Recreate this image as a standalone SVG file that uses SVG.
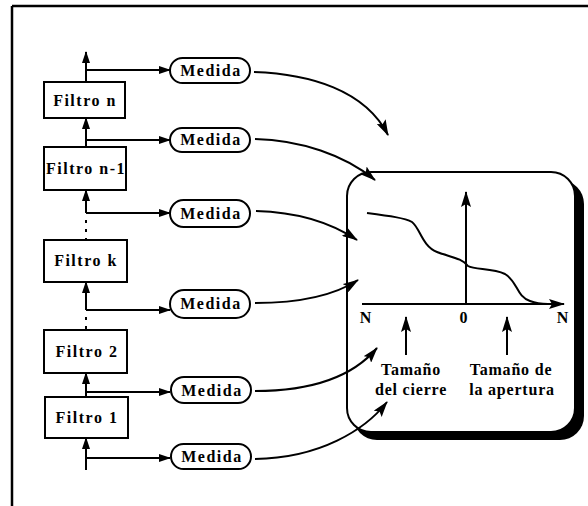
<svg xmlns="http://www.w3.org/2000/svg" width="588" height="506" viewBox="0 0 588 506">
<style>
.t{font-family:"Liberation Serif","Times New Roman",serif;font-weight:bold;fill:#000}
.lb{font-size:16px;letter-spacing:1.5px}
.pt{font-size:16px;letter-spacing:0.8px}
.box{fill:#fff;stroke:#000;stroke-width:2}
.pill{fill:#fff;stroke:#000;stroke-width:2}
.ln{fill:none;stroke:#000;stroke-width:2}
.dot{fill:none;stroke:#000;stroke-width:2;stroke-dasharray:3 6}
</style>
<defs>
<marker id="ah" viewBox="0 0 12 8" refX="11" refY="4" markerWidth="12" markerHeight="8" markerUnits="userSpaceOnUse" orient="auto">
<path d="M0,0 L12,4 L0,8 Z" fill="#000"/>
</marker>
<marker id="ahb" viewBox="0 0 16 10" refX="15" refY="5" markerWidth="16" markerHeight="10" markerUnits="userSpaceOnUse" orient="auto">
<path d="M0,0 L16,5 L0,10 L3,5 Z" fill="#000"/>
</marker>
</defs>
<g id="frame">
<line x1="12" y1="6" x2="588" y2="6" stroke="#000" stroke-width="2.5"/>
<line x1="12" y1="6" x2="12" y2="506" stroke="#000" stroke-width="2.5"/>
</g>
<g id="panel">
<rect x="353" y="180" width="231" height="260" rx="24" fill="#000"/>
<rect x="347" y="172" width="228" height="260" rx="24" fill="#fff" stroke="#000" stroke-width="2"/>
<path class="ln" d="M362,304 H564" marker-end="url(#ahb)"/>
<path class="ln" d="M466,304 V192" marker-end="url(#ahb)"/>
<path class="ln" d="M367,213 C390,216 405,218 412,222 C420,228 422,246 437,252 C450,257 462,258 468,266 C475,270 492,268 505,274 C518,282 516,296 530,301 C535,303 540,304 548,304"/>
<path class="ln" d="M406,355 V317" marker-end="url(#ahb)"/>
<path class="ln" d="M507,355 V317" marker-end="url(#ahb)"/>
<text class="t pt" x="366" y="323" text-anchor="middle">N</text>
<text class="t pt" x="464" y="323" text-anchor="middle">0</text>
<text class="t pt" x="563" y="323" text-anchor="middle">N</text>
<text class="t pt" x="411" y="375" text-anchor="middle">Tamaño</text>
<text class="t pt" x="411" y="395" text-anchor="middle">del cierre</text>
<text class="t pt" x="511" y="375" text-anchor="middle">Tamaño de</text>
<text class="t pt" x="512" y="395" text-anchor="middle">la apertura</text>
</g>
<g id="connectors">
<path class="ln" d="M86,82 V52" marker-end="url(#ah)"/>
<path class="ln" d="M86,70 H170" marker-end="url(#ah)"/>
<path class="ln" d="M86,147 V118" marker-end="url(#ah)"/>
<path class="ln" d="M86,140 H170" marker-end="url(#ah)"/>
<path class="ln" d="M86,213 V190" marker-end="url(#ah)"/>
<path class="ln" d="M86,213 H170" marker-end="url(#ah)"/>
<path class="dot" d="M86,220 V240"/>
<path class="ln" d="M86,310 V282" marker-end="url(#ah)"/>
<path class="ln" d="M86,310 H170" marker-end="url(#ah)"/>
<path class="dot" d="M86,317 V330"/>
<path class="ln" d="M86,397 V373" marker-end="url(#ah)"/>
<path class="ln" d="M86,392 H170" marker-end="url(#ah)"/>
<path class="ln" d="M86,470 V438" marker-end="url(#ah)"/>
<path class="ln" d="M86,458 H170" marker-end="url(#ah)"/>
<path class="ln" d="M254,72 C310,74 365,90 388,135" marker-end="url(#ahb)"/>
<path class="ln" d="M255,139 C300,140 345,155 375,180" marker-end="url(#ahb)"/>
<path class="ln" d="M256,211 C295,212 330,222 357,240" marker-end="url(#ahb)"/>
<path class="ln" d="M255,303 C300,303 335,295 358,280" marker-end="url(#ahb)"/>
<path class="ln" d="M255,391 C305,391 350,380 377,348" marker-end="url(#ahb)"/>
<path class="ln" d="M255,459 C320,458 365,430 387,402" marker-end="url(#ahb)"/>
</g>
<g id="filtro-n"><rect class="box" x="44" y="82" width="81" height="36"/><text class="t lb" x="85" y="106" text-anchor="middle">Filtro n</text></g>
<g id="filtro-n-1"><rect class="box" x="44" y="147" width="82" height="43"/><text class="t lb" x="86" y="174" text-anchor="middle">Filtro n-1</text></g>
<g id="filtro-k"><rect class="box" x="44" y="240" width="83" height="42"/><text class="t lb" x="86" y="266" text-anchor="middle">Filtro k</text></g>
<g id="filtro-2"><rect class="box" x="44" y="330" width="83" height="43"/><text class="t lb" x="87" y="357" text-anchor="middle">Filtro 2</text></g>
<g id="filtro-1"><rect class="box" x="45" y="397" width="83" height="41"/><text class="t lb" x="87" y="423" text-anchor="middle">Filtro 1</text></g>
<g id="medida-1"><rect class="pill" x="170" y="58" width="80" height="25" rx="12.5"/><text class="t lb" x="211" y="76" text-anchor="middle">Medida</text></g>
<g id="medida-2"><rect class="pill" x="170" y="128" width="80" height="24" rx="12"/><text class="t lb" x="211" y="145" text-anchor="middle">Medida</text></g>
<g id="medida-3"><rect class="pill" x="170" y="200" width="80" height="27" rx="13.5"/><text class="t lb" x="211" y="219" text-anchor="middle">Medida</text></g>
<g id="medida-4"><rect class="pill" x="170" y="290" width="80" height="28" rx="14"/><text class="t lb" x="211" y="309" text-anchor="middle">Medida</text></g>
<g id="medida-5"><rect class="pill" x="171" y="377" width="80" height="26" rx="13"/><text class="t lb" x="212" y="396" text-anchor="middle">Medida</text></g>
<g id="medida-6"><rect class="pill" x="171" y="444" width="80" height="25" rx="12.5"/><text class="t lb" x="212" y="462" text-anchor="middle">Medida</text></g>
</svg>
